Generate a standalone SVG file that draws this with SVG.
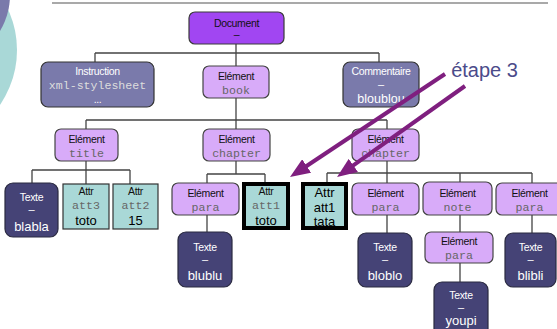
<svg xmlns="http://www.w3.org/2000/svg" width="557" height="329" viewBox="0 0 557 329">
<defs>
<style>
.doc{fill:#a146f2;stroke:#3a3a3a;stroke-width:1.2}
.el{fill:#d8abf9;stroke:#444;stroke-width:1.2}
.pi{fill:#7a7aab;stroke:#333;stroke-width:1.2}
.tx{fill:#454376;stroke:#2a2a40;stroke-width:1.2}
.at{fill:#a9d8d7;stroke:#333;stroke-width:1.2}
.atb{fill:#a9d8d7;stroke:#000;stroke-width:4}
text{text-anchor:middle;font-family:"Liberation Sans",Arial,sans-serif}
.lab{font-size:10.5px;letter-spacing:-0.35px;fill:#111}
.labw{font-size:10.5px;letter-spacing:-0.35px;fill:#fff}
.mono{font-family:"Liberation Mono","Courier New",monospace;font-size:11.6px;fill:#666}
.monow{font-family:"Liberation Mono","Courier New",monospace;font-size:11.6px;fill:#ddd}
.val{font-size:13px;fill:#000}
.valw{font-size:13px;fill:#fff}
.dash{font-size:11px;fill:#fff}
.conn path{fill:none;stroke:#444;stroke-width:1.3}
.arr{fill:none;stroke:#7f1f7f;stroke-width:4}
</style>
<marker id="ah" markerUnits="userSpaceOnUse" viewBox="0 0 20 16" markerWidth="20" markerHeight="16" refX="10" refY="8" orient="auto">
<path d="M0,0 L20,8 L0,16 z" fill="#7f1f7f"/>
</marker>
</defs>
<rect width="557" height="329" fill="#fff"/>
<g id="decor">
<circle cx="-80" cy="50" r="97" fill="#a9d8d7"/>
<circle cx="-60" cy="-5" r="70" fill="#7a7aab"/>
<path d="M52,3 H548" stroke="#555" stroke-width="1.2"/>
</g>
<g class="conn" id="connectors">
<path d="M236,44 V53 M95,53 H379 M95,53 V62 M236,53 V66 M379,53 V62"/>
<path d="M236,98 V120 M86,120 H387 M86,120 V129 M236,120 V129 M387,120 V129"/>
<path d="M86,161 V184 M32,170 H130 M32,170 V183 M130,170 V184"/>
<path d="M236,161 V174 M207,174 H265 M207,174 V183 M265,174 V182"/>
<path d="M207,215 V232"/>
<path d="M387,161 V183 M327,173 H532 M327,173 V182 M460,173 V182 M532,173 V183"/>
<path d="M387,215 V233 M460,215 V232 M460,263 V282 M532,215 V233"/>
</g>
<g id="document"><rect class="doc" x="189" y="12" width="95" height="32" rx="6"/><text class="lab" x="236.5" y="27">Document</text><text class="lab" x="236.5" y="38">–</text></g>
<g id="instruction"><rect class="pi" x="41" y="62" width="113" height="45" rx="7"/><text class="labw" x="97.5" y="75">Instruction</text><text class="monow" x="97.5" y="89">xml-stylesheet</text><text class="labw" x="97.5" y="103">...</text></g>
<g id="book"><rect class="el" x="203" y="66" width="66" height="32" rx="6"/><text class="lab" x="236" y="80">Elément</text><text class="mono" x="236" y="94">book</text></g>
<g id="commentaire"><rect class="pi" x="343" y="62" width="76" height="45" rx="7"/><text class="labw" x="381" y="75">Commentaire</text><text class="dash" x="381" y="88">–</text><text class="valw" x="381" y="103" style="font-size:12.5px">bloublou</text></g>
<g id="title"><rect class="el" x="55" y="129" width="63" height="32" rx="6"/><text class="lab" x="86.5" y="143">Elément</text><text class="mono" x="86.5" y="157">title</text></g>
<g id="chapter1"><rect class="el" x="203" y="129" width="67" height="32" rx="6"/><text class="lab" x="236.5" y="143">Elément</text><text class="mono" x="236.5" y="157">chapter</text></g>
<g id="chapter2"><rect class="el" x="352" y="129" width="67" height="32" rx="6"/><text class="lab" x="385.5" y="143">Elément</text><text class="mono" x="385.5" y="157">chapter</text></g>
<g id="texte-blabla"><rect class="tx" x="5" y="183" width="53" height="54" rx="8"/><text class="labw" x="31.5" y="201">Texte</text><text class="dash" x="31.5" y="213">–</text><text class="valw" x="31.5" y="231">blabla</text></g>
<g id="attr-att3"><rect class="at" x="63" y="184" width="46" height="45"/><text class="lab" x="86" y="195">Attr</text><text class="mono" x="86" y="209">att3</text><text class="val" x="86" y="225">toto</text></g>
<g id="attr-att2"><rect class="at" x="113" y="184" width="45" height="45"/><text class="lab" x="135.5" y="195">Attr</text><text class="mono" x="135.5" y="209">att2</text><text class="val" x="135.5" y="225">15</text></g>
<g id="para1"><rect class="el" x="172" y="183" width="67" height="32" rx="6"/><text class="lab" x="205.5" y="197">Elément</text><text class="mono" x="205.5" y="211">para</text></g>
<g id="attr-att1-toto"><rect class="atb" x="244" y="184" width="44" height="44"/><text class="lab" x="266" y="195">Attr</text><text class="mono" x="266" y="209">att1</text><text class="val" x="266" y="225">toto</text></g>
<g id="attr-att1-tata"><rect class="atb" x="303" y="184" width="43" height="44"/><text class="val" x="324.5" y="197">Attr</text><text class="val" x="324.5" y="212">att1</text><text class="val" x="324.5" y="226">tata</text></g>
<g id="para2"><rect class="el" x="352" y="183" width="67" height="32" rx="6"/><text class="lab" x="385.5" y="197">Elément</text><text class="mono" x="385.5" y="211">para</text></g>
<g id="note"><rect class="el" x="423" y="182" width="69" height="33" rx="6"/><text class="lab" x="457.5" y="197">Elément</text><text class="mono" x="457.5" y="211">note</text></g>
<g id="para3"><rect class="el" x="496" y="183" width="67" height="32" rx="6"/><text class="lab" x="529.5" y="197">Elément</text><text class="mono" x="529.5" y="211">para</text></g>
<g id="texte-blublu"><rect class="tx" x="178" y="232" width="54" height="55" rx="8"/><text class="labw" x="205" y="251">Texte</text><text class="dash" x="205" y="263">–</text><text class="valw" x="205" y="280">blublu</text></g>
<g id="texte-bloblo"><rect class="tx" x="358" y="233" width="54" height="54" rx="8"/><text class="labw" x="385" y="251">Texte</text><text class="dash" x="385" y="263">–</text><text class="valw" x="385" y="280">bloblo</text></g>
<g id="para4"><rect class="el" x="425" y="232" width="68" height="31" rx="6"/><text class="lab" x="459" y="245">Elément</text><text class="mono" x="459" y="259">para</text></g>
<g id="texte-blibli"><rect class="tx" x="505" y="233" width="51" height="54" rx="8"/><text class="labw" x="530.5" y="251">Texte</text><text class="dash" x="530.5" y="263">–</text><text class="valw" x="530.5" y="280">blibli</text></g>
<g id="texte-youpi"><rect class="tx" x="434" y="282" width="54" height="58" rx="8"/><text class="labw" x="461" y="299">Texte</text><text class="dash" x="461" y="311">–</text><text class="valw" x="461" y="325">youpi</text></g>
<g id="etape3">
<text x="484.5" y="77" style="font-size:20px;fill:#4b4b8a">étape 3</text>
<path class="arr" d="M445,74 L298.3,171.5" marker-end="url(#ah)"/>
<path class="arr" d="M465,86 L345.2,171.2" marker-end="url(#ah)"/>
</g>
</svg>
